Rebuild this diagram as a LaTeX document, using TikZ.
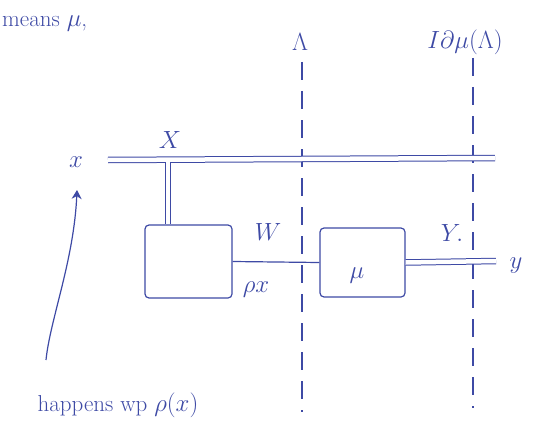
\documentclass[tikz,border=0pt]{standalone}
\usepackage{fontspec}
\usetikzlibrary{arrows.meta}
\definecolor{ink}{RGB}{62,74,165}
\begin{document}
\begin{tikzpicture}[x=1pt,y=-1pt,
  every node/.style={text=ink,font=\fontsize{23}{25}\selectfont},
  wire/.style={draw=ink,line width=1.2pt},
  dbl/.style={draw=ink,line width=1pt,double=white,double distance=4.5pt},
  blk/.style={draw=ink,line width=1.2pt,rounded corners=4pt,minimum width=0pt,inner sep=0pt},
  sep/.style={draw=ink,line width=1.2pt,dash pattern=on 18pt off 11pt}]
\useasboundingbox (0,0) rectangle (548,433);
% texts
\node[anchor=west,inner sep=1pt] (means) at (1,24) {means $\mu$,};
\node (lam) at (300,42) {$\Lambda$};
\node (idmu) at (465,42) {$I\partial\mu(\Lambda)$};
\node (xin) at (76,162) {$x$};
\node (Xl) at (170,140) {$X$};
\node (Wl) at (268,232) {$W$};
\node (rhox) at (256,290) {$\rho x$};
\node (Yl) at (452,233) {$Y.$};
\node (yout) at (516,266) {$y$};
\node (happ) at (118,405) {happens wp $\rho(x)$};
% boxes
\node[blk,minimum width=87pt,minimum height=73pt] (b1) at (188.5,261.5) {};
\node[blk,minimum width=85pt,minimum height=69pt] (b2) at (362.5,262.5) {};
\node (mu) at (357,276) {$\mu$};
% dashed separators
\coordinate (s1t) at (302,62); \coordinate (s1b) at (302,412);
\coordinate (s2t) at (473,58); \coordinate (s2b) at (473,408);
\draw[sep] (s1t) -- (s1b);
\draw[sep] (s2t) -- (s2b);
% wires
\coordinate (xa) at (108,160);
\coordinate (xb) at (495,158);
\draw[dbl] (xa) -- (xb);
\coordinate (xd) at (168,162);
\draw[dbl] (xd) -- (b1.north -| xd);
\draw[wire] (b1.east) -- (b2.west);
\coordinate (ye) at (496,261);
\draw[dbl] (b2.east) -- (ye);
% arrow
\coordinate (as) at (46,360);
\coordinate (ae) at (77,190);
\draw[wire,-{Stealth[length=9pt,width=10pt]}] (as) .. controls (50,320) and (74,260) .. (ae);
\end{tikzpicture}
\end{document}
